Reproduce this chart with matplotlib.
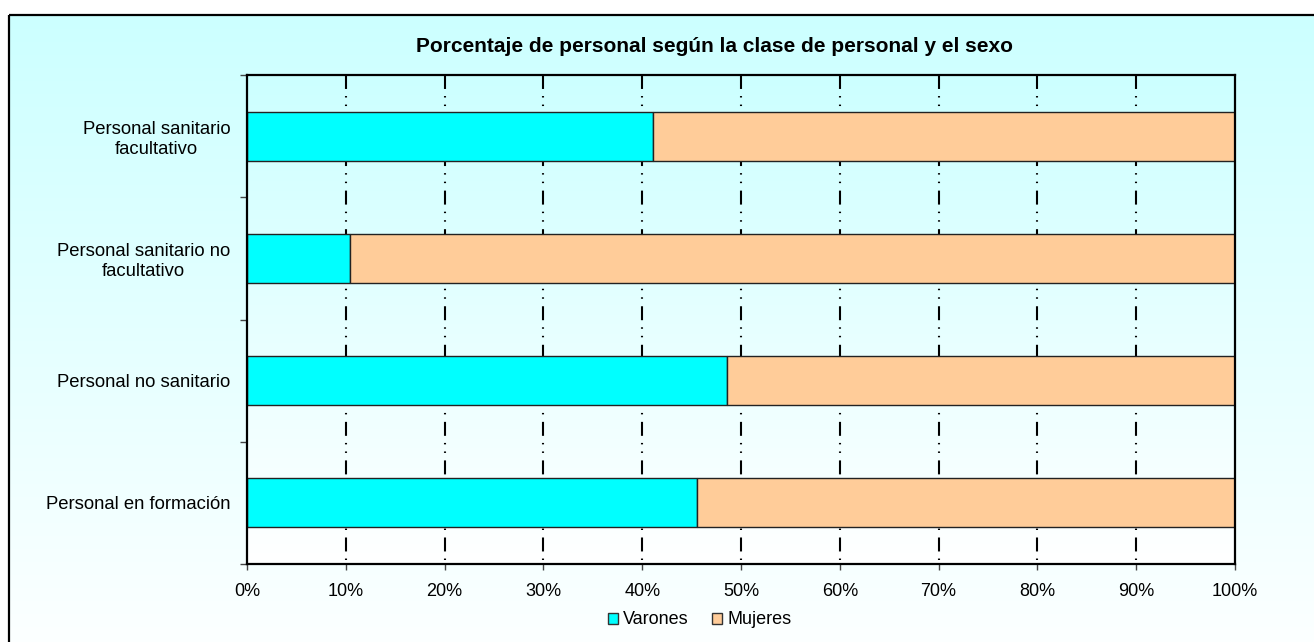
import matplotlib
matplotlib.use("Agg")
import matplotlib.pyplot as plt
import numpy as np
from matplotlib.patches import Rectangle, Patch
from matplotlib.colors import LinearSegmentedColormap

categories = ["Personal sanitario\nfacultativo",
              "Personal sanitario no\nfacultativo",
              "Personal no sanitario",
              "Personal en formación"]
varones = [41.1, 10.4, 48.6, 45.5]
mujeres = [100 - v for v in varones]
series_names = ["Varones", "Mujeres"]
xticks = [0, 10, 20, 30, 40, 50, 60, 70, 80, 90, 100]
xticklabels = [f"{t}%" for t in xticks]
title = "Porcentaje de personal según la clase de personal y el sexo"

plt.rcParams['font.family'] = ['Liberation Sans', 'DejaVu Sans']

W, H = 1314, 642
fig = plt.figure(figsize=(W / 100, H / 100), dpi=100)
fig.patch.set_facecolor("white")

cmap = LinearSegmentedColormap.from_list("cy", ["#CCFFFF", "#FFFFFF"])

# figure background gradient and frame
bg = fig.add_axes([0, 0, 1, 1], zorder=-10)
grad = np.linspace(0, 1, 256).reshape(-1, 1)
bg.imshow(grad, cmap=cmap, extent=(9, W + 5, 680, 15), aspect="auto",
          interpolation="bilinear", vmin=0, vmax=1)
bg.set_xlim(0, W)
bg.set_ylim(H, 0)
bg.axis("off")
bg.add_patch(Rectangle((9, 15), W, H, fill=False, edgecolor="black",
                       linewidth=1.6, clip_on=False))

# main axes
L, R, T, B = 247, 1235, 75, 564
ax = fig.add_axes([L / W, 1 - B / H, (R - L) / W, (B - T) / H])
ax.set_facecolor("none")
n = len(categories)
ax.imshow(grad, cmap=cmap, extent=(0, 100, n - 0.5, -0.5), aspect="auto",
          interpolation="bilinear", vmin=0, vmax=1, zorder=0)

ypos = np.arange(n)
# grid lines
for x in xticks[1:-1]:
    ax.plot([x, x], [-0.5, n - 0.5], color="black", linewidth=1.5,
            dashes=[6.7, 3.4, 0.7, 3.4, 0.7, 3.6], zorder=1,
            dash_capstyle="butt")

ax.barh(ypos, varones, height=0.4, color="#00FFFF", edgecolor="#222222",
        linewidth=1.0, zorder=2, label=series_names[0])
ax.barh(ypos, mujeres, left=varones, height=0.4, color="#FFCC99",
        edgecolor="#222222", linewidth=1.0, zorder=2, label=series_names[1])

ax.set_xlim(0, 100)
ax.set_ylim(n - 0.5, -0.5)

ax.set_xticks(xticks)
ax.set_xticklabels(xticklabels, fontsize=13)
ax.tick_params(axis="x", direction="out", length=4, width=1, pad=10,
               color="#444444")
ax.set_yticks(ypos)
ax.set_yticklabels(categories, fontsize=13.3, multialignment="center")
ax.tick_params(axis="y", which="major", length=0, pad=12)
ax.set_yticks(np.arange(-0.5, n, 1.0), minor=True)
ax.tick_params(axis="y", which="minor", direction="out", length=5, width=1,
               color="#444444")

for s in ax.spines.values():
    s.set_linewidth(1.6)
    s.set_color("black")
    s.set_zorder(5)

fig.text(714 / W, 1 - 47 / H, title, ha="center", va="center",
         fontsize=15, fontweight="bold")

handles = [Patch(facecolor="#00FFFF", edgecolor="#333333", linewidth=1),
           Patch(facecolor="#FFCC99", edgecolor="#333333", linewidth=1)]
fig.legend(handles, series_names, loc="center", bbox_to_anchor=(700 / W, 1 - 620 / H),
           ncol=2, frameon=False, fontsize=13, handlelength=0.55,
           handleheight=0.55, handletextpad=0.3, columnspacing=1.3)

fig.savefig("out.png", dpi=100)
